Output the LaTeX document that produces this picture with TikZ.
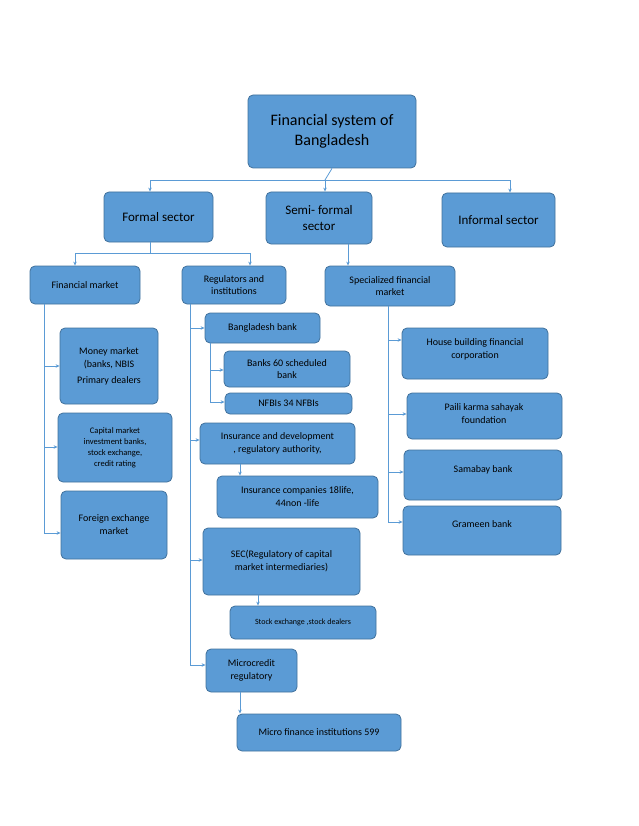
\documentclass[tikz,border=0pt]{standalone}
\usepackage{fontspec}
\setmainfont{Carlito}
\usetikzlibrary{arrows.meta}
\definecolor{bfill}{HTML}{5B9BD5}
\definecolor{bdraw}{HTML}{41719C}
\begin{document}
\begin{tikzpicture}[x=1pt,y=-1pt,
 box/.style={draw=bdraw,fill=bfill,rounded corners=5pt,line width=0.8pt,align=center,inner sep=0pt},
 ln/.style={draw=bfill,line width=0.8pt},
 ar/.style={ln,-{Stealth[length=4pt,width=3.5pt]}}]
\useasboundingbox (0,0) rectangle (638,826);
\newcommand\bx[6]{\node[box,minimum width={#3-#1},minimum height={#4-#2},font=#5] (#6) at ({(#1+#3)/2},{(#2+#4)/2}) {};}
\bx{248}{95}{416}{168}{}{top}
\node[font=\fontsize{16}{20}\selectfont,align=center] at (top) {Financial system of\\Bangladesh};
\bx{104}{192}{213}{242}{}{formal}\node[font=\fontsize{13}{16}\selectfont] at (formal) {Formal sector};
\bx{266}{192}{372}{244}{}{semi}\node[font=\fontsize{13}{16}\selectfont,align=center] at (semi) {Semi- formal\\sector};
\bx{442}{193}{555}{247}{}{inf}\node[font=\fontsize{13}{16}\selectfont] at (inf) {Informal sector};
\bx{30}{266}{140}{304}{}{fm}\node[font=\fontsize{10}{12}\selectfont] at (fm) {Financial market};
\bx{182}{266}{286}{304}{}{reg}\node[font=\fontsize{10}{12}\selectfont,align=center] at (reg) {Regulators and\\institutions};
\bx{325}{266}{455}{306}{}{spec}\node[font=\fontsize{10}{12}\selectfont,align=center] at (spec) {Specialized financial\\market};
\bx{60}{328}{158}{404}{}{mm}\node[font=\fontsize{10}{13}\selectfont,align=center] at (mm) {Money market\\(banks, NBIS\\[3pt]Primary dealers};
\bx{58}{413}{172}{482}{}{cm}\node[font=\fontsize{8.5}{11}\selectfont,align=center] at (cm) {Capital market\\investment banks,\\stock exchange,\\credit rating};
\bx{61}{491}{167}{559}{}{fx}\node[font=\fontsize{10}{13}\selectfont,align=center] at (fx) {Foreign exchange\\market};
\bx{205}{313}{320}{343}{}{bb}\node[font=\fontsize{10}{12}\selectfont] at (bb) {Bangladesh bank};
\bx{224}{351}{350}{387}{}{b60}\node[font=\fontsize{10}{12}\selectfont,align=center] at (b60) {Banks 60 scheduled\\bank};
\bx{225}{393}{352}{414}{}{nf}\node[font=\fontsize{10}{12}\selectfont] at (nf) {NFBIs 34 NFBIs};
\bx{200}{423}{355}{464}{}{ins}\node[font=\fontsize{10}{13}\selectfont,align=center] at (ins) {Insurance and development\\, regulatory authority,};
\bx{217}{476}{378}{518}{}{ic}\node[font=\fontsize{10}{13}\selectfont,align=center] at (ic) {Insurance companies 18life,\\44non -life};
\bx{203}{528}{360}{595}{}{sec}\node[font=\fontsize{10}{13}\selectfont,align=center] at (sec) {SEC(Regulatory of capital\\market intermediaries)};
\bx{230}{606}{376}{639}{}{se}\node[font=\fontsize{8}{10}\selectfont] at (se) {Stock exchange ,stock dealers};
\bx{206}{649}{297}{692}{}{mc}\node[font=\fontsize{10}{13}\selectfont,align=center] at (mc) {Microcredit\\regulatory};
\bx{237}{714}{401}{751}{}{mfi}\node[font=\fontsize{10}{12}\selectfont] at (mfi) {Micro finance institutions 599};
\bx{402}{328}{548}{379}{}{hb}\node[font=\fontsize{10}{13}\selectfont,align=center,anchor=north] at (475,335) {House building financial\\corporation};
\bx{407}{393}{562}{439}{}{pk}\node[font=\fontsize{10}{13}\selectfont,align=center,anchor=north] at (484,400) {Paili karma sahayak\\foundation};
\bx{404}{450}{562}{500}{}{sb}\node[font=\fontsize{10}{12}\selectfont] at (483,470) {Samabay bank};
\bx{403}{506}{561}{555}{}{gb}\node[font=\fontsize{10}{12}\selectfont] at (482,524) {Grameen bank};
% top connectors
\coordinate (t1) at (325,180);
\draw[ln] (top.south) -- (t1);
\draw[ar] (t1) -- (150,180) -- (formal.north-|150,0);
\draw[ar] (t1) -- (semi.north-|325,0);
\draw[ar] (t1) -- (510,180) -- (inf.north-|510,0);
\coordinate (f1) at (150,253);
\draw[ln] (formal.south-|150,0) -- (f1);
\draw[ar] (f1) -- (75,253) -- (fm.north-|75,0);
\draw[ar] (f1) -- (250,253) -- (reg.north-|250,0);
\draw[ar] (semi.south-|348,0) -- (spec.north-|348,0);
% financial market
\draw[ln] (fm.south-|44,0) -- (44,533);
\draw[ar] (44,366) -- (mm.west|-0,366);
\draw[ar] (44,447) -- (cm.west|-0,447);
\draw[ar] (44,533) -- (fx.west|-0,533);
% regulators
\draw[ln] (reg.south-|190,0) -- (190,665);
\draw[ar] (190,328) -- (bb.west|-0,328);
\draw[ar] (190,440) -- (ins.west|-0,440);
\draw[ar] (190,560) -- (sec.west|-0,560);
\draw[ar] (190,665) -- (mc.west|-0,665);
\draw[ln] (bb.south-|210,0) -- (210,402);
\draw[ar] (210,370) -- (b60.west|-0,370);
\draw[ar] (210,402) -- (nf.west|-0,402);
\draw[ar] (ins.south-|240,0) -- (ic.north-|240,0);
\draw[ar] (sec.south-|258,0) -- (se.north-|258,0);
\draw[ar] (mc.south-|240,0) -- (mfi.north-|240,0);
% specialized
\draw[ln] (spec.south-|388,0) -- (388,522);
\draw[ar] (388,340) -- (hb.west|-0,340);
\draw[ar] (388,414) -- (pk.west|-0,414);
\draw[ar] (388,472) -- (sb.west|-0,472);
\draw[ar] (388,522) -- (gb.west|-0,522);
\end{tikzpicture}
\end{document}
